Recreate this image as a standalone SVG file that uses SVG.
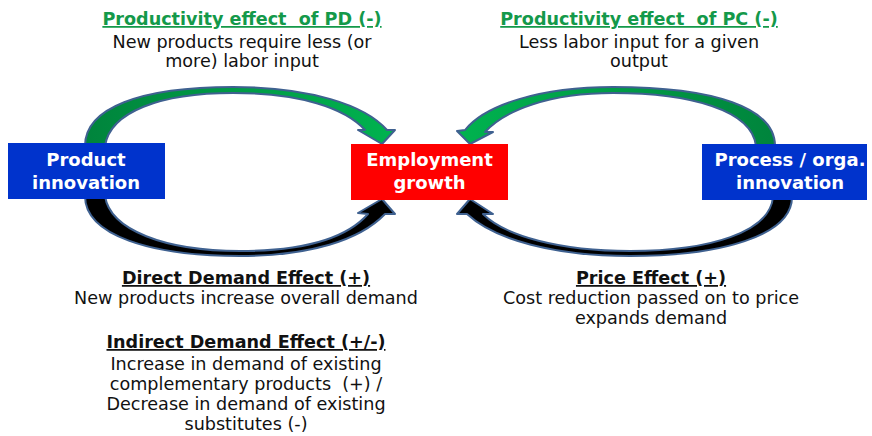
<svg xmlns="http://www.w3.org/2000/svg" width="872" height="436" viewBox="0 0 872 436">
<style>
.t{font-family:"DejaVu Sans",sans-serif;font-size:17.6px;fill:#111;text-anchor:middle;white-space:pre}
.h{font-weight:bold;text-decoration:underline}
.g{fill:#14994a}
.bx{font-family:"DejaVu Sans",sans-serif;font-size:18px;font-weight:bold;fill:#fff;text-anchor:middle}
.arr{stroke:#3f6190;stroke-width:2;stroke-linejoin:round}
</style>
<defs>
<linearGradient id="gL" gradientUnits="userSpaceOnUse" x1="85" y1="0" x2="395" y2="0">
<stop offset="0" stop-color="#00843c"/><stop offset="1" stop-color="#00b34f"/>
</linearGradient>
<linearGradient id="gR" gradientUnits="userSpaceOnUse" x1="775" y1="0" x2="457" y2="0">
<stop offset="0" stop-color="#00843c"/><stop offset="1" stop-color="#00b34f"/>
</linearGradient>
</defs>
<rect width="872" height="436" fill="#fff"/>
<g id="connectors">
<path class="arr" fill="url(#gL)" d="M85,146 C85,108 140,87 233,87 C310,87 365,105 387,130 L395,130 L382,144 L358,130 L365,130 C345,108 300,93 233,93 C160,93 110,112 105,146 Z"/>
<path class="arr" fill="url(#gR)" d="M775,146 C775,108 715,87 613,87 C540,87 485,105 465,130 L457,131 L470,144 L493,132 L485,132 C505,110 550,93 613,93 C690,93 752,110 756,146 Z"/>
<path class="arr" fill="#000" d="M85,196 C85,235 150,256 240,256 C310,256 360,240 385,214 L395,214 L382,199 L358,213 L368,214 C345,240 300,251 240,251 C165,251 110,230 105,196 Z"/>
<path class="arr" fill="#000" d="M792,197 C792,236 720,256 630,256 C555,256 495,240 467,214 L457,214 L470,199 L493,214 L483,214 C505,236 560,251 630,251 C710,251 770,232 773,197 Z"/>
</g>
<g id="product">
<rect x="8" y="143" width="157" height="56" fill="#0033cc"/>
<text class="bx" x="86" y="166">Product</text>
<text class="bx" x="86" y="189">innovation</text>
</g>
<g id="employment">
<rect x="351" y="144" width="157" height="56" fill="#ff0000"/>
<text class="bx" x="429.5" y="166">Employment</text>
<text class="bx" x="429.5" y="189">growth</text>
</g>
<g id="process">
<rect x="702" y="144" width="165" height="56" fill="#0033cc"/>
<text class="bx" x="790" y="166">Process / orga.</text>
<text class="bx" x="790" y="189">innovation</text>
</g>
<g id="label-pd">
<text class="t h g" x="242" y="25">Productivity effect  of PD (-)</text>
<text class="t" x="242" y="48">New products require less (or</text>
<text class="t" x="242" y="67">more) labor input</text>
</g>
<g id="label-pc">
<text class="t h g" x="639" y="25">Productivity effect  of PC (-)</text>
<text class="t" x="639" y="48">Less labor input for a given</text>
<text class="t" x="639" y="67">output</text>
</g>
<g id="label-demand">
<text class="t h" x="246" y="284">Direct Demand Effect (+)</text>
<text class="t" x="246" y="304">New products increase overall demand</text>
<text class="t h" x="246" y="348">Indirect Demand Effect (+/-)</text>
<text class="t" x="246" y="370">Increase in demand of existing</text>
<text class="t" x="246" y="390">complementary products  (+) /</text>
<text class="t" x="246" y="410">Decrease in demand of existing</text>
<text class="t" x="246" y="430">substitutes (-)</text>
</g>
<g id="label-price">
<text class="t h" x="651" y="284">Price Effect (+)</text>
<text class="t" x="651" y="304">Cost reduction passed on to price</text>
<text class="t" x="651" y="324">expands demand</text>
</g>
</svg>
